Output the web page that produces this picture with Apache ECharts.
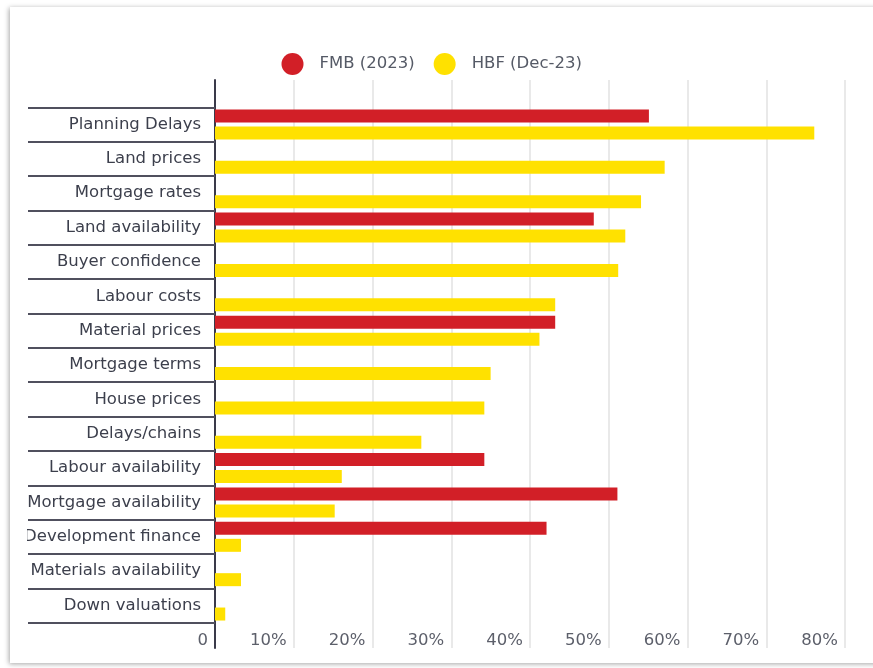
<!DOCTYPE html>
<html>
<head>
<meta charset="utf-8">
<script src="https://cdn.jsdelivr.net/npm/echarts@6/dist/echarts.min.js"></script>
<style>
html,body{margin:0;padding:0;background:#fff;}
#chart{width:873px;height:668px;}
</style>
</head>
<body>
<div id="chart"></div>
<script>
var categories = ['Planning Delays','Land prices','Mortgage rates','Land availability','Buyer confidence','Labour costs','Material prices','Mortgage terms','House prices','Delays/chains','Labour availability','Mortgage availability','Development finance','Materials availability','Down valuations'];
var fmb2023 = [55.1, null, null, 48.1, null, null, 43.2, null, null, null, 34.2, 51.1, 42.1, null, null];
var hbfDec23 = [76.1, 57.1, 54.1, 52.1, 51.2, 43.2, 41.2, 35.0, 34.2, 26.2, 16.1, 15.2, 3.3, 3.3, 1.3];
var xTicks = [0, 10, 20, 30, 40, 50, 60, 70, 80];
var seriesNames = ['FMB (2023)', 'HBF (Dec-23)'];

var FONT = '"DejaVu Sans", sans-serif';
var chart = echarts.init(document.getElementById('chart'));
chart.setOption({
  animation: false,
  backgroundColor: '#fff',
  color: ['#d21f27', '#ffe100'],
  textStyle: {fontFamily: FONT},
  graphic: [
    {type: 'rect', z: -100, shape: {x: 10, y: 7, width: 900, height: 656},
     style: {fill: '#fff', shadowBlur: 5, shadowColor: 'rgba(0,0,0,0.35)', shadowOffsetX: -1, shadowOffsetY: 1}},
    {type: 'rect', z: 100, shape: {x: 12, y: 95, width: 15, height: 545}, style: {fill: '#fff'}}
  ],
  legend: {
    left: 281.5, top: 53, padding: 0,
    icon: 'circle', itemWidth: 22, itemHeight: 22, itemGap: 19,
    textStyle: {fontSize: 16.5, color: '#555a66', fontFamily: FONT, padding: [0, 0, 0, 11]},
    data: seriesNames
  },
  grid: [
    {left: 215, right: 28, top: 80, bottom: 20},
    {left: 215, right: 28, top: 107.3, height: 515.4}
  ],
  xAxis: [
    {gridIndex: 0, type: 'value', min: 0, max: 80, interval: 10,
     axisLine: {show: false}, axisTick: {show: false},
     splitLine: {show: true, lineStyle: {color: '#e2e2e2', width: 1.5}},
     axisLabel: {inside: true, margin: -1, align: 'right', padding: [0, 7, 0, 0],
       fontSize: 16.5, color: '#5c5f6a', fontFamily: FONT,
       formatter: function (v) { return v === 0 ? '0' : v + '%'; }}},
    {gridIndex: 1, type: 'value', min: 0, max: 80, show: false}
  ],
  yAxis: [
    {gridIndex: 0, type: 'value', min: 0, max: 1,
     axisLine: {show: true, lineStyle: {color: '#3a3a4a', width: 2}},
     axisTick: {show: false}, axisLabel: {show: false}, splitLine: {show: false}},
    {gridIndex: 1, type: 'category', data: categories, inverse: true,
     axisLine: {show: false},
     axisTick: {show: true, length: 187, lineStyle: {color: '#50505e', width: 2}},
     axisLabel: {margin: 14, fontSize: 16.5, color: '#3c3f4c', fontFamily: FONT},
     splitLine: {show: false}}
  ],
  series: [
    {name: seriesNames[0], type: 'bar', xAxisIndex: 1, yAxisIndex: 1, data: fmb2023, barWidth: 13, barGap: '31%'},
    {name: seriesNames[1], type: 'bar', xAxisIndex: 1, yAxisIndex: 1, data: hbfDec23, barWidth: 13, barGap: '31%'}
  ]
});
</script>
</body>
</html>
